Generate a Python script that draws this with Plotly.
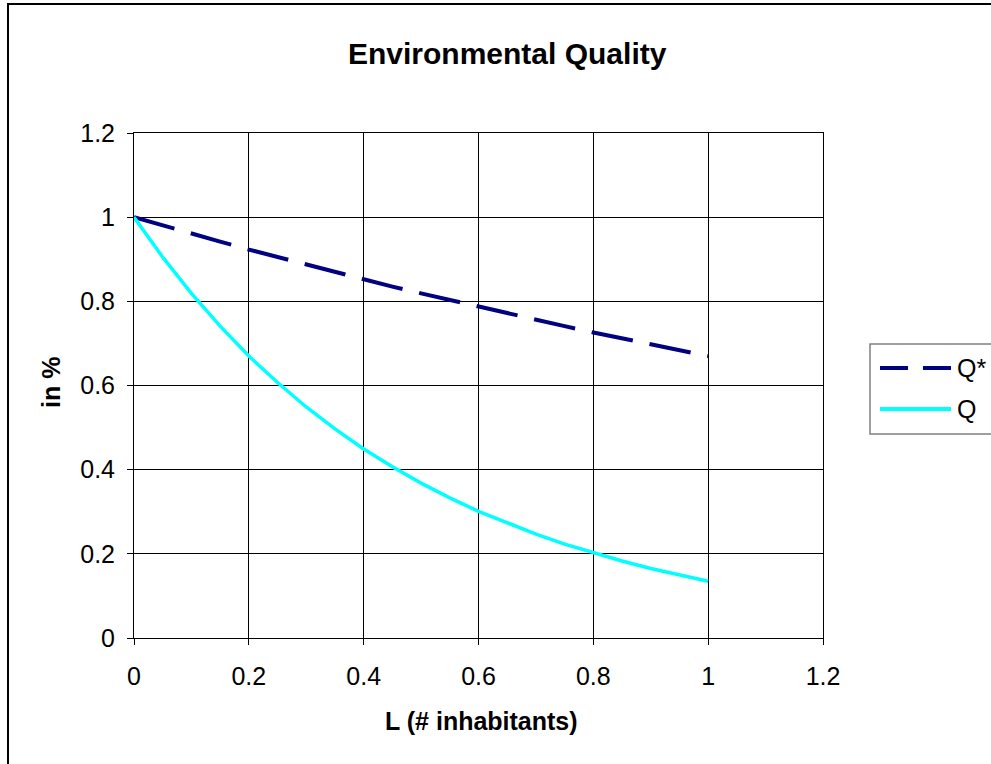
import plotly.graph_objects as go

# Data
L_values = [0.0, 0.05, 0.1, 0.15, 0.2, 0.25, 0.3, 0.35, 0.4, 0.45, 0.5,
            0.55, 0.6, 0.65, 0.7, 0.75, 0.8, 0.85, 0.9, 0.95, 1.0]
Q_star = [1.0, 0.980, 0.961, 0.942, 0.923, 0.905, 0.887, 0.869, 0.852, 0.835, 0.819,
          0.803, 0.787, 0.771, 0.756, 0.741, 0.726, 0.712, 0.698, 0.684, 0.670]
Q = [1.0, 0.905, 0.819, 0.741, 0.670, 0.607, 0.549, 0.497, 0.449, 0.407, 0.368,
     0.333, 0.301, 0.273, 0.247, 0.223, 0.202, 0.183, 0.165, 0.150, 0.135]
series_names = ["Q*", "Q"]
tick_vals = [0, 0.2, 0.4, 0.6, 0.8, 1.0, 1.2]
tick_text = ["0", "0.2", "0.4", "0.6", "0.8", "1", "1.2"]

W, H = 991, 764
L_M, R_M, T_M, B_M = 134, 168, 133, 126
PW = W - L_M - R_M
PH = H - T_M - B_M


def px(x):
    return (x - L_M) / PW


def py(y):
    return (H - B_M - y) / PH


FONT = "Liberation Sans, Arial, sans-serif"
NAVY = "#000080"
CYAN = "#00FFFF"

fig = go.Figure()
fig.add_trace(go.Scatter(x=L_values, y=Q_star, mode="lines", name=series_names[0],
                         line=dict(color=NAVY, width=4, dash="42px,17px")))
fig.add_trace(go.Scatter(x=L_values, y=Q, mode="lines", name=series_names[1],
                         line=dict(color=CYAN, width=3.5)))

axis_common = dict(range=[0, 1.2], tickvals=tick_vals, ticktext=tick_text,
                   showgrid=True, gridcolor="black", gridwidth=1,
                   zeroline=False, showline=True, mirror=True, linecolor="black", linewidth=1,
                   ticks="outside", ticklen=6, tickcolor="black",
                   tickfont=dict(family=FONT, size=25, color="black"))
fig.update_xaxes(**axis_common, ticklabelstandoff=10)
fig.update_yaxes(**axis_common, ticklabelstandoff=7)

shapes = [
    # outer chart frame
    dict(type="rect", xref="paper", yref="paper", x0=px(8), x1=px(1200), y0=py(4), y1=py(1000),
         line=dict(color="black", width=2), fillcolor="rgba(0,0,0,0)", layer="below"),
    # legend box
    dict(type="rect", xref="paper", yref="paper", x0=px(870), x1=px(1100), y0=py(344), y1=py(434),
         line=dict(color="#808080", width=1.5), fillcolor="white"),
    dict(type="line", xref="paper", yref="paper", x0=px(880), x1=px(951), y0=py(368), y1=py(368),
         line=dict(color=NAVY, width=4, dash="28px,15px")),
    dict(type="line", xref="paper", yref="paper", x0=px(880), x1=px(951), y0=py(409), y1=py(409),
         line=dict(color=CYAN, width=4)),
]

annotations = [
    dict(text="<b>Environmental Quality</b>", x=px(507), y=py(53), xref="paper", yref="paper",
         xanchor="center", yanchor="middle", showarrow=False,
         font=dict(family=FONT, size=30, color="black")),
    dict(text="<b>L (# inhabitants)</b>", x=px(481), y=py(721), xref="paper", yref="paper",
         xanchor="center", yanchor="middle", showarrow=False,
         font=dict(family=FONT, size=25, color="black")),
    dict(text="<b>in %</b>", x=px(51), y=py(383), xref="paper", yref="paper",
         xanchor="center", yanchor="middle", showarrow=False, textangle=-90,
         font=dict(family=FONT, size=25, color="black")),
    dict(text=series_names[0], x=px(955), y=py(368), xref="paper", yref="paper",
         xanchor="left", yanchor="middle", showarrow=False,
         font=dict(family=FONT, size=25, color="black")),
    dict(text=series_names[1], x=px(955), y=py(409), xref="paper", yref="paper",
         xanchor="left", yanchor="middle", showarrow=False,
         font=dict(family=FONT, size=25, color="black")),
]

fig.update_layout(width=W, height=H, margin=dict(l=L_M, r=R_M, t=T_M, b=B_M),
                  paper_bgcolor="white", plot_bgcolor="white", showlegend=False,
                  shapes=shapes, annotations=annotations)

fig.write_html("out.html")
